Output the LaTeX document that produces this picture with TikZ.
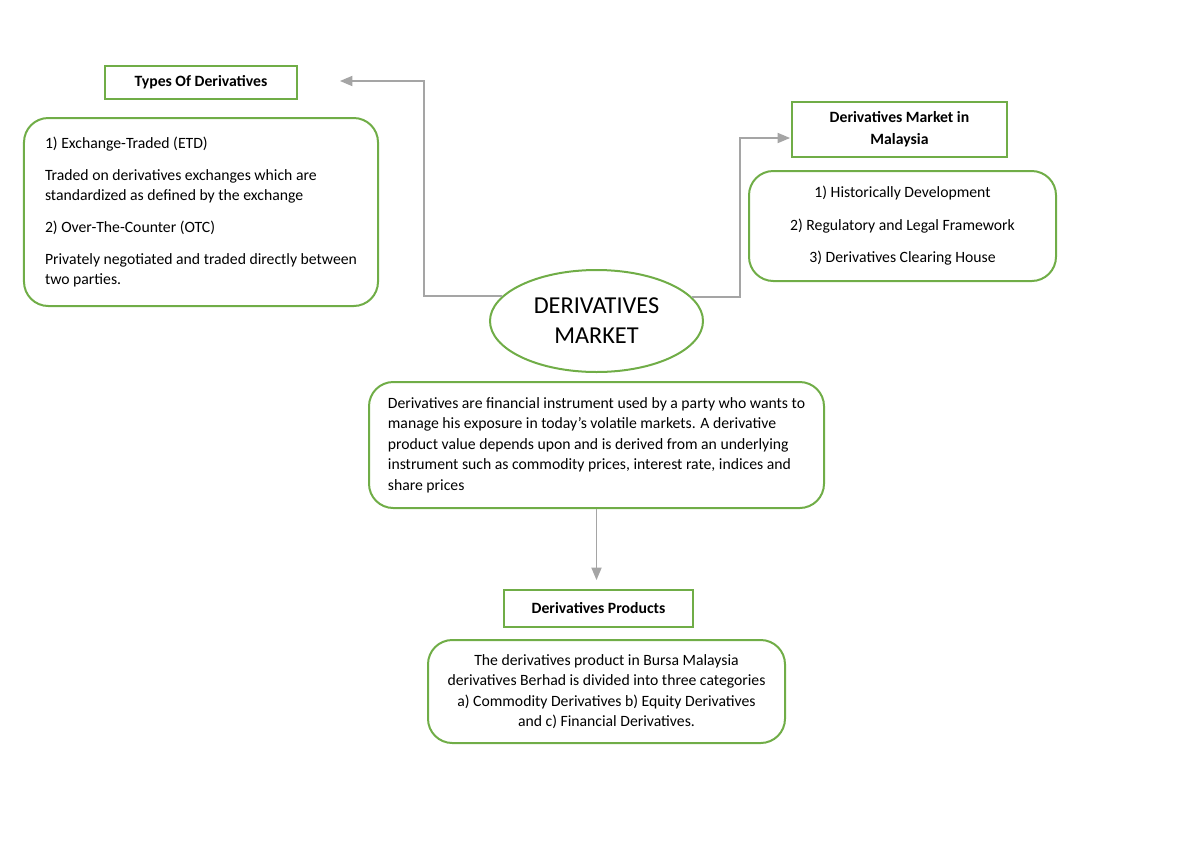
\documentclass[tikz,border=0pt]{standalone}
\usepackage{fontspec}
\setmainfont{Carlito}
\usetikzlibrary{shapes.geometric,arrows}
\definecolor{leaf}{HTML}{70AD47}
\definecolor{wire}{HTML}{A5A5A5}

\begin{document}
\begin{tikzpicture}[x=0.7pt, y=-0.7pt,
  title/.style={draw=leaf, line width=1.4pt, align=center, inner sep=0pt,
    font=\bfseries\fontsize{11}{15.4}\selectfont},
  note/.style={draw=leaf, line width=1.4pt, rounded corners=17pt, inner sep=0pt,
    font=\fontsize{11}{14.35}\selectfont},
  link/.style={draw=wire, line width=1pt, ->, >=triangle 45}]
  \useasboundingbox (0,0) rectangle (1200,849);

  \node[title, minimum width=134.4pt, minimum height=23.1pt] (types) at (201,82.5) {Types Of Derivatives};
  \node[note, minimum width=247.8pt, minimum height=131.6pt, align=left] (etd) at (201,212)
    {1) Exchange-Traded (ETD)\\[8pt]
     Traded on derivatives exchanges which are\\
     standardized as defined by the exchange\\[8pt]
     2) Over-The-Counter (OTC)\\[8pt]
     Privately negotiated and traded directly between\\
     two parties.};
  \node[ellipse, draw=leaf, line width=1.4pt, minimum width=149.1pt, minimum height=71.4pt,
    align=center, inner sep=0pt, font=\fontsize{17}{21}\selectfont] (core) at (596.5,321) {DERIVATIVES\\MARKET};
  \node[title, minimum width=150.5pt, minimum height=38.5pt] (malaysia) at (899.5,129.5) {Derivatives Market in\\Malaysia};
  \node[note, minimum width=214.9pt, minimum height=77pt, align=center] (mlist) at (902.5,226)
    {1) Historically Development\\[8.4pt]
     2) Regulatory and Legal Framework\\[8.4pt]
     3) Derivatives Clearing House};
  \node[note, minimum width=318.5pt, minimum height=88.2pt, align=left] (desc) at (596.5,445)
    {Derivatives are financial instrument used by a party who wants to\\
     manage his exposure in today’s volatile markets. A derivative\\
     product value depends upon and is derived from an underlying\\
     instrument such as commodity prices, interest rate, indices and\\
     share prices};
  \node[title, minimum width=132.3pt, minimum height=25.9pt] (products) at (598.5,608.5) {Derivatives Products};
  \node[note, minimum width=249.9pt, minimum height=72.1pt, align=center] (plist) at (606.5,691.5)
    {The derivatives product in Bursa Malaysia\\
     derivatives Berhad is divided into three categories\\
     a) Commodity Derivatives b) Equity Derivatives\\
     and c) Financial Derivatives.};

  \coordinate (bendL) at (424,81);
  \coordinate (typesIn) at (340,81);
  \coordinate (bendR) at (740,138);
  \coordinate (malayIn) at (790,138);
  \coordinate (prodIn) at (596.5,580);

  \draw[link] (core.165) -| (bendL) -- (typesIn);
  \draw[link] (core.14) -| (bendR) -- (malayIn);
  \draw[link] (desc.south) -- (prodIn);
\end{tikzpicture}
\end{document}
